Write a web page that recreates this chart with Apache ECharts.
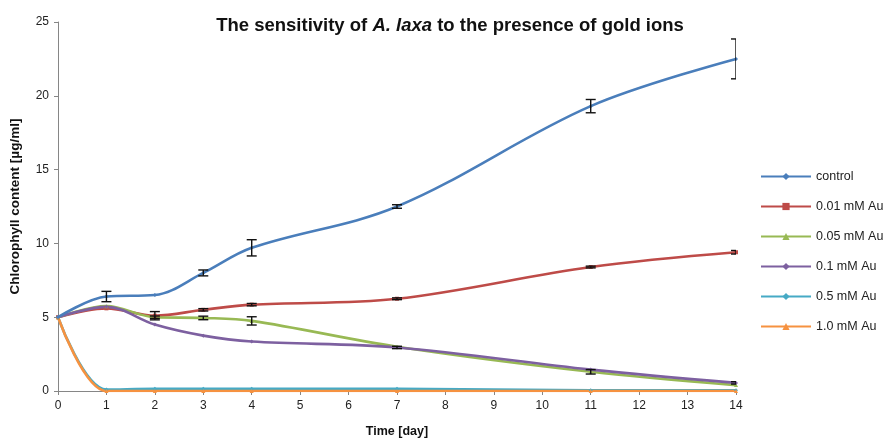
<!DOCTYPE html>
<html><head><meta charset="utf-8">
<script src="https://cdn.jsdelivr.net/npm/echarts@6/dist/echarts.min.js"></script>
<style>html,body{margin:0;padding:0;background:#fff}#c{width:891px;height:443px}</style>
</head><body><div id="c"></div>
<script>
const days = [0, 1, 2, 3, 4, 7, 11, 14];
const seriesNames = ['control', '0.01 mM Au', '0.05 mM Au', '0.1 mM Au', '0.5 mM Au', '1.0 mM Au'];
const control = [5.0, 6.4, 6.5, 8.0, 9.7, 12.5, 19.3, 22.5];
const au001 = [5.0, 5.6, 5.1, 5.5, 5.85, 6.25, 8.4, 9.4];
const au005 = [5.0, 5.75, 5.0, 4.95, 4.75, 3.0, 1.3, 0.4];
const au01 = [5.0, 5.7, 4.5, 3.75, 3.35, 2.95, 1.45, 0.55];
const au05 = [5.0, 0.1, 0.15, 0.15, 0.15, 0.15, 0.05, 0.05];
const au10 = [5.0, 0.0, 0.0, 0.0, 0.0, 0.0, 0.0, 0.0];
const errControl = [0, 0.35, 0, 0.2, 0.55, 0.12, 0.45, 1.35];
const err001 = [0, 0, 0.28, 0.08, 0.08, 0.06, 0.06, 0.12];
const err005 = [0, 0, 0.08, 0.12, 0.28, 0, 0.15, 0];
const err01 = [0, 0, 0, 0, 0, 0.08, 0, 0.08];
const err05 = [0, 0, 0, 0, 0, 0, 0, 0];
const err10 = [0, 0, 0, 0, 0, 0, 0, 0];
const xTicks = [0,1,2,3,4,5,6,7,8,9,10,11,12,13,14];
const yTicks = [0,5,10,15,20,25];

const values = [control, au001, au005, au01, au05, au10];
const errors = [errControl, err001, err005, err01, err05, err10];
const colors = ['#4A7EBB', '#BE4B48', '#98B954', '#7D60A0', '#46AAC5', '#F69240'];
const symbols = ['diamond', 'rect', 'triangle', 'diamond', 'diamond', 'triangle'];

const lineSeries = seriesNames.map((n, i) => ({
  name: n, type: 'line', smooth: 0.35,
  data: days.map((d, k) => [d, values[i][k]]),
  symbol: symbols[i], symbolSize: 4, showSymbol: true,
  lineStyle: { width: 2.6, color: colors[i] },
  itemStyle: { color: colors[i] },
  z: 2 + (i === 0 ? 1 : 0)
}));

const errSeries = seriesNames.map((n, i) => ({
  type: 'custom', clip: true, z: 5,
  data: days.map((d, k) => [d, values[i][k], errors[i][k]]),
  renderItem: function (params, api) {
    const x = api.value(0), y = api.value(1), e = api.value(2);
    if (!e) return null;
    const top = api.coord([x, y + e]);
    const bot = api.coord([x, y - e]);
    const hw = 5;
    const st = { stroke: '#111', lineWidth: 1.4 };
    return { type: 'group', children: [
      { type: 'line', shape: { x1: top[0], y1: top[1], x2: bot[0], y2: bot[1] }, style: st },
      { type: 'line', shape: { x1: top[0] - hw, y1: top[1], x2: top[0] + hw, y2: top[1] }, style: st },
      { type: 'line', shape: { x1: bot[0] - hw, y1: bot[1], x2: bot[0] + hw, y2: bot[1] }, style: st }
    ]};
  }
}));

const chart = echarts.init(document.getElementById('c'), null, { renderer: 'canvas' });
chart.setOption({
  animation: false,
  textStyle: { fontFamily: 'Liberation Sans, Arial, sans-serif' },
  title: {
    text: '{b|The sensitivity of }{i|A. laxa}{b| to the presence of gold ions}',
    left: 445, top: 11, textAlign: 'center',
    textStyle: { rich: {
      b: { fontSize: 18.5, fontWeight: 'bold', color: '#111', fontFamily: 'Liberation Sans, Arial' },
      i: { fontSize: 18.5, fontWeight: 'bold', fontStyle: 'italic', color: '#111', fontFamily: 'Liberation Sans, Arial' }
    } }
  },
  legend: {
    data: seriesNames, orient: 'vertical', left: 755, top: 165,
    itemWidth: 50, itemHeight: 9, itemGap: 17,
    textStyle: { fontSize: 12.5, color: '#222' }
  },
  grid: { left: 57, right: 155, top: 22, bottom: 51, containLabel: false },
  xAxis: {
    type: 'value', min: 0, max: 14, interval: 1,
    name: 'Time [day]', nameLocation: 'middle', nameGap: 34,
    nameTextStyle: { fontWeight: 'bold', fontSize: 12.5, color: '#111' },
    axisLine: { lineStyle: { color: '#868686' } },
    axisTick: { inside: false, length: 4, lineStyle: { color: '#868686' } },
    axisLabel: { fontSize: 12, color: '#222', margin: 9 },
    splitLine: { show: false }
  },
  yAxis: {
    type: 'value', min: 0, max: 25, interval: 5,
    name: 'Chlorophyll content [µg/ml]', nameLocation: 'middle', nameGap: 36, nameRotate: 90,
    nameTextStyle: { fontWeight: 'bold', fontSize: 13.5, color: '#111' },
    axisLine: { show: true, lineStyle: { color: '#868686' } },
    axisTick: { show: true, length: 4, lineStyle: { color: '#868686' } },
    axisLabel: { fontSize: 12, color: '#222', margin: 9 },
    splitLine: { show: false }
  },
  series: lineSeries.concat(errSeries)
});
</script></body></html>
